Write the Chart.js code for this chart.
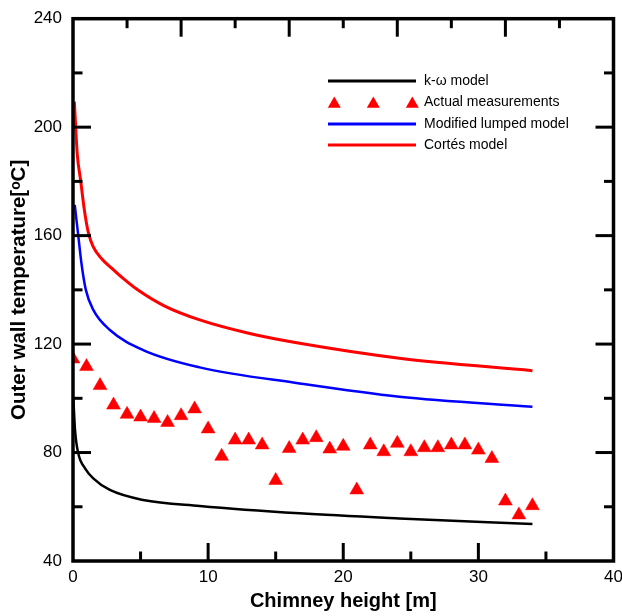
<!DOCTYPE html>
<html>
<head>
<meta charset="utf-8">
<script src="https://cdn.jsdelivr.net/npm/chart.js@4.4.1/dist/chart.umd.min.js"></script>
<style>
  html, body { margin: 0; padding: 0; background: #fff; }
  #wrap { width: 622px; height: 616px; position: relative; }
</style>
</head>
<body>
<div id="wrap"><canvas id="chart"></canvas></div>
<script>
const FONT = "'Liberation Sans', Arial, sans-serif";

// measured points (every metre)
const heightM = [0, 1, 2, 3, 4, 5, 6, 7, 8, 9, 10, 11, 12, 13, 14, 15, 16, 17,
  18, 19, 20, 21, 22, 23, 24, 25, 26, 27, 28, 29, 30, 31, 32, 33, 34];
const measured = [114.5, 111.7, 104.7, 97.5, 94.1, 93.1, 92.6, 91.1, 93.6, 96.1,
  88.7, 78.6, 84.6, 84.6, 82.8, 69.7, 81.5, 84.6, 85.5, 81.3, 82.3, 66.2, 82.8,
  80.3, 83.4, 80.3, 81.8, 81.8, 82.8, 82.8, 80.9, 77.8, 62.1, 57.0, 60.4];

// model curves
const komegaX = [0.02, 0.15, 0.39, 0.89, 1.5, 2.73, 5.19, 9.38, 16.77, 24.15, 34];
const komegaY = [100.6, 88.3, 79.7, 74.2, 70.5, 66.2, 62.5, 60.3, 57.6, 55.7, 53.6];

const lumpedX = [0.13, 0.39, 0.62, 0.95, 1.5, 2.73, 5.19, 9.38, 16.77, 24.15, 34];
const lumpedY = [171.3, 160.0, 150.0, 140.0, 132.6, 125.2, 117.8, 111.4, 105.5, 100.6, 96.9];

const cortesX = [0.1, 0.2, 0.32, 0.57, 0.81, 1.0, 1.13, 1.48, 2.12, 2.88, 3.71, 4.7,
  6.79, 9.38, 13.07, 16.77, 24.15, 34];
const cortesY = [209.4, 199.8, 189.7, 180.2, 170.5, 164.5, 161.3, 156.0, 151.5, 147.9,
  144.2, 140.3, 134.0, 128.9, 123.9, 120.3, 114.8, 110.2];

const xTicks = [0, 10, 20, 30, 40];
const yTicks = [40, 80, 120, 160, 200, 240];
const xMinor = [5, 15, 25, 35];
const yMinor = [60, 100, 140, 180, 220];
const topTicks = [4, 8, 12, 16, 20, 24, 28, 32, 36];
const rightTicks = [60, 80, 100, 120, 140, 160, 180, 200, 220];

const toPoints = (xs, ys) => xs.map((x, i) => ({ x, y: ys[i] }));

const framePlugin = {
  id: 'frame',
  afterDatasetsDraw(chart) {
    const { ctx, chartArea: a, scales: { x, y } } = chart;
    const major = 18, minor = 9.5;
    ctx.save();
    ctx.strokeStyle = '#000';
    ctx.lineWidth = 3;
    ctx.lineCap = 'butt';
    const seg = (x1, y1, x2, y2) => {
      ctx.beginPath();
      ctx.moveTo(x1, y1);
      ctx.lineTo(x2, y2);
      ctx.stroke();
    };
    xTicks.slice(1, -1).forEach(v => {
      const p = x.getPixelForValue(v);
      seg(p, a.bottom, p, a.bottom - major);
    });
    xMinor.forEach(v => {
      const p = x.getPixelForValue(v);
      seg(p, a.bottom, p, a.bottom - minor);
    });
    yTicks.slice(1, -1).forEach(v => {
      const p = y.getPixelForValue(v);
      seg(a.left, p, a.left + major, p);
    });
    yMinor.forEach(v => {
      const p = y.getPixelForValue(v);
      seg(a.left, p, a.left + minor, p);
    });
    topTicks.forEach(v => {
      const p = x.getPixelForValue(v);
      seg(p, a.top, p, a.top + (v % 8 === 0 ? major : minor));
    });
    rightTicks.forEach(v => {
      const p = y.getPixelForValue(v);
      seg(a.right, p, a.right - (v % 40 === 0 ? major : minor), p);
    });
    ctx.lineWidth = 3.5;
    ctx.strokeRect(a.left, a.top, a.right - a.left, a.bottom - a.top);
    ctx.restore();
  }
};

const legendPlugin = {
  id: 'boxLegend',
  afterDraw(chart) {
    const { ctx } = chart;
    const rows = [81, 102.5, 124, 145];
    const x0 = 328, x1 = 416, tx = 424;
    ctx.save();
    ctx.font = '14px ' + FONT;
    ctx.textBaseline = 'middle';
    chart.data.datasets.forEach((ds, i) => {
      const yy = rows[i];
      if (ds.showLine === false) {
        ctx.fillStyle = ds.backgroundColor;
        [334.3, 373.3, 412.3].forEach(cx => {
          const r = 7.5;
          ctx.beginPath();
          ctx.moveTo(cx, yy - r * 0.8);
          ctx.lineTo(cx + r * 0.866, yy + r * 0.7);
          ctx.lineTo(cx - r * 0.866, yy + r * 0.7);
          ctx.closePath();
          ctx.fill();
        });
      } else {
        ctx.strokeStyle = ds.borderColor;
        ctx.lineWidth = 3;
        ctx.beginPath();
        ctx.moveTo(x0, yy);
        ctx.lineTo(x1, yy);
        ctx.stroke();
      }
      ctx.fillStyle = '#000';
      ctx.fillText(ds.label, tx, yy);
    });
    ctx.restore();
  }
};

new Chart(document.getElementById('chart'), {
  type: 'line',
  data: {
    datasets: [
      {
        label: 'k-ω model',
        data: toPoints(komegaX, komegaY),
        borderColor: '#000000',
        borderWidth: 2.5,
        pointRadius: 0,
        cubicInterpolationMode: 'monotone'
      },
      {
        label: 'Actual measurements',
        data: toPoints(heightM, measured),
        showLine: false,
        pointStyle: 'triangle',
        pointRadius: 8,
        pointBorderWidth: 0.5,
        backgroundColor: '#ff0000',
        borderColor: '#ff0000'
      },
      {
        label: 'Modified lumped model',
        data: toPoints(lumpedX, lumpedY),
        borderColor: '#0000ff',
        borderWidth: 2.5,
        pointRadius: 0,
        cubicInterpolationMode: 'monotone'
      },
      {
        label: 'Cortés model',
        data: toPoints(cortesX, cortesY),
        borderColor: '#ff0000',
        borderWidth: 3,
        pointRadius: 0,
        cubicInterpolationMode: 'monotone'
      }
    ]
  },
  options: {
    responsive: true,
    maintainAspectRatio: false,
    animation: false,
    layout: { padding: { left: 0, right: 7.5, top: 18.7, bottom: 0 } },
    plugins: { legend: { display: false }, tooltip: { enabled: false } },
    scales: {
      x: {
        type: 'linear',
        min: 0,
        max: 40,
        afterBuildTicks: (s) => { s.ticks = xTicks.map(v => ({ value: v })); },
        afterFit: (s) => { s.height = 55; s.paddingLeft = 0; s.paddingRight = 0; },
        grid: { display: false, drawTicks: false },
        border: { display: false },
        ticks: { color: '#000', padding: 6, maxRotation: 0, font: { family: FONT, size: 17 } },
        title: {
          display: true,
          text: 'Chimney height [m]',
          color: '#000',
          padding: { top: 0, bottom: 3 },
          font: { family: FONT, size: 20, weight: 'bold' }
        }
      },
      y: {
        type: 'linear',
        min: 40,
        max: 240,
        afterBuildTicks: (s) => { s.ticks = yTicks.map(v => ({ value: v })); },
        afterFit: (s) => { s.width = 73; s.paddingTop = 0; s.paddingBottom = 0; },
        grid: { display: false, drawTicks: false },
        border: { display: false },
        ticks: { color: '#000', padding: 11, font: { family: FONT, size: 17 } },
        title: {
          display: true,
          text: 'Outer wall temperature[ᵒC]',
          color: '#000',
          padding: { top: 7, bottom: 0 },
          font: { family: FONT, size: 20.5, weight: 'bold' }
        }
      }
    }
  },
  plugins: [framePlugin, legendPlugin]
});
</script>
</body>
</html>
